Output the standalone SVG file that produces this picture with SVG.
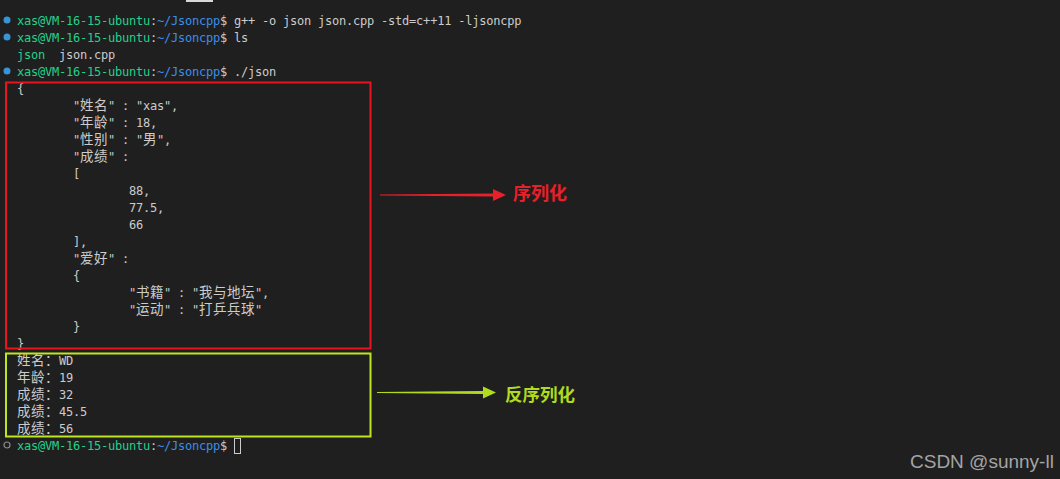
<svg xmlns="http://www.w3.org/2000/svg" width="1060" height="479" viewBox="0 0 1060 479">
<style>
.t{font-family:"DejaVu Sans Mono","Liberation Mono","Noto Sans CJK SC",monospace;font-size:12px;letter-spacing:-0.22px;fill:#cccccc}
.c{font-family:"Noto Sans CJK SC",sans-serif;font-size:13.5px;letter-spacing:0.5px}
.g{fill:#23d18b}
.b{fill:#3b8eea}
.dot{fill:#3794d6}
.lbl{font-family:"Noto Sans CJK SC",sans-serif;font-weight:bold}
</style>
<rect width="1060" height="479" fill="#1f1f1f"/>
<rect x="186" y="0" width="27" height="2" fill="#d8d8d8"/>

<g id="terminal">
<circle class="dot" cx="7" cy="20" r="3.5"/>
<text class="t" y="24.5"><tspan class="g" x="17">xas@VM-16-15-ubuntu</tspan><tspan x="150">:</tspan><tspan class="b" x="157">~/Jsoncpp</tspan><tspan x="220">$</tspan><tspan x="234">g++ -o json json.cpp -std=c++11 -ljsoncpp</tspan></text>
<circle class="dot" cx="7" cy="37" r="3.5"/>
<text class="t" y="41.5"><tspan class="g" x="17">xas@VM-16-15-ubuntu</tspan><tspan x="150">:</tspan><tspan class="b" x="157">~/Jsoncpp</tspan><tspan x="220">$</tspan><tspan x="234">ls</tspan></text>
<text class="t" y="58.5"><tspan class="g" x="17">json</tspan><tspan x="59">json.cpp</tspan></text>
<circle class="dot" cx="7" cy="71" r="3.5"/>
<text class="t" y="75.5"><tspan class="g" x="17">xas@VM-16-15-ubuntu</tspan><tspan x="150">:</tspan><tspan class="b" x="157">~/Jsoncpp</tspan><tspan x="220">$</tspan><tspan x="234">./json</tspan></text>

<text class="t" x="17" y="92.5">{</text>
<text class="t" y="109.5"><tspan x="73">"</tspan><tspan class="c" x="80">姓名</tspan><tspan x="108">" : "xas",</tspan></text>
<text class="t" y="126.5"><tspan x="73">"</tspan><tspan class="c" x="80">年龄</tspan><tspan x="108">" : 18,</tspan></text>
<text class="t" y="143.5"><tspan x="73">"</tspan><tspan class="c" x="80">性别</tspan><tspan x="108">" : "</tspan><tspan class="c" x="143">男</tspan><tspan x="157">",</tspan></text>
<text class="t" y="160.5"><tspan x="73">"</tspan><tspan class="c" x="80">成绩</tspan><tspan x="108">" :</tspan></text>
<text class="t" x="73" y="177.5">[</text>
<text class="t" x="129" y="194.5">88,</text>
<text class="t" x="129" y="211.5">77.5,</text>
<text class="t" x="129" y="228.5">66</text>
<text class="t" x="73" y="245.5">],</text>
<text class="t" y="262.5"><tspan x="73">"</tspan><tspan class="c" x="80">爱好</tspan><tspan x="108">" :</tspan></text>
<text class="t" x="73" y="279.5">{</text>
<text class="t" y="296.5"><tspan x="129">"</tspan><tspan class="c" x="136">书籍</tspan><tspan x="164">" : "</tspan><tspan class="c" x="199">我与地坛</tspan><tspan x="255">",</tspan></text>
<text class="t" y="313.5"><tspan x="129">"</tspan><tspan class="c" x="136">运动</tspan><tspan x="164">" : "</tspan><tspan class="c" x="199">打乒兵球</tspan><tspan x="255">"</tspan></text>
<text class="t" x="73" y="330.5">}</text>
<text class="t" x="17" y="347.5">}</text>

<text class="t" y="364.5"><tspan class="c" x="17">姓名：</tspan><tspan x="59">WD</tspan></text>
<text class="t" y="381.5"><tspan class="c" x="17">年龄：</tspan><tspan x="59">19</tspan></text>
<text class="t" y="398.5"><tspan class="c" x="17">成绩：</tspan><tspan x="59">32</tspan></text>
<text class="t" y="415.5"><tspan class="c" x="17">成绩：</tspan><tspan x="59">45.5</tspan></text>
<text class="t" y="432.5"><tspan class="c" x="17">成绩：</tspan><tspan x="59">56</tspan></text>

<circle cx="7" cy="445" r="3" fill="none" stroke="#8a8a8a" stroke-width="1.2"/>
<text class="t" y="449.5"><tspan class="g" x="17">xas@VM-16-15-ubuntu</tspan><tspan x="150">:</tspan><tspan class="b" x="157">~/Jsoncpp</tspan><tspan x="220">$</tspan></text>
<rect x="234.5" y="438.5" width="6" height="15" fill="none" stroke="#cccccc" stroke-width="1"/>
</g>

<g id="serialized-box">
<rect x="6" y="82.5" width="364.5" height="266" fill="none" stroke="#e8141e" stroke-width="2"/>
</g>
<g id="deserialized-box">
<rect x="6" y="353.5" width="364.5" height="83" fill="none" stroke="#bde61e" stroke-width="2"/>
</g>

<g id="connectors">
<path d="M380,194.6 L493,193.6 L493,189 L506,195 L493,201 L493,196.4 L380,195.4 Z" fill="#e8202a"/>
<path d="M377,392.1 L483,391.1 L483,386.5 L496,392.5 L483,398.5 L483,393.9 L377,392.9 Z" fill="#b0dc1e"/>
</g>

<g id="label-serialize">
<text class="lbl" x="513" y="199.5" font-size="18" fill="#e8202a">序列化</text>
</g>
<g id="label-deserialize">
<text class="lbl" x="505" y="400.5" font-size="17.5" fill="#b0dc1e">反序列化</text>
</g>

<text x="910" y="467.5" font-family="Liberation Sans, Arial, sans-serif" font-size="19" fill="#a4a4a4">CSDN @sunny-ll</text>
</svg>
